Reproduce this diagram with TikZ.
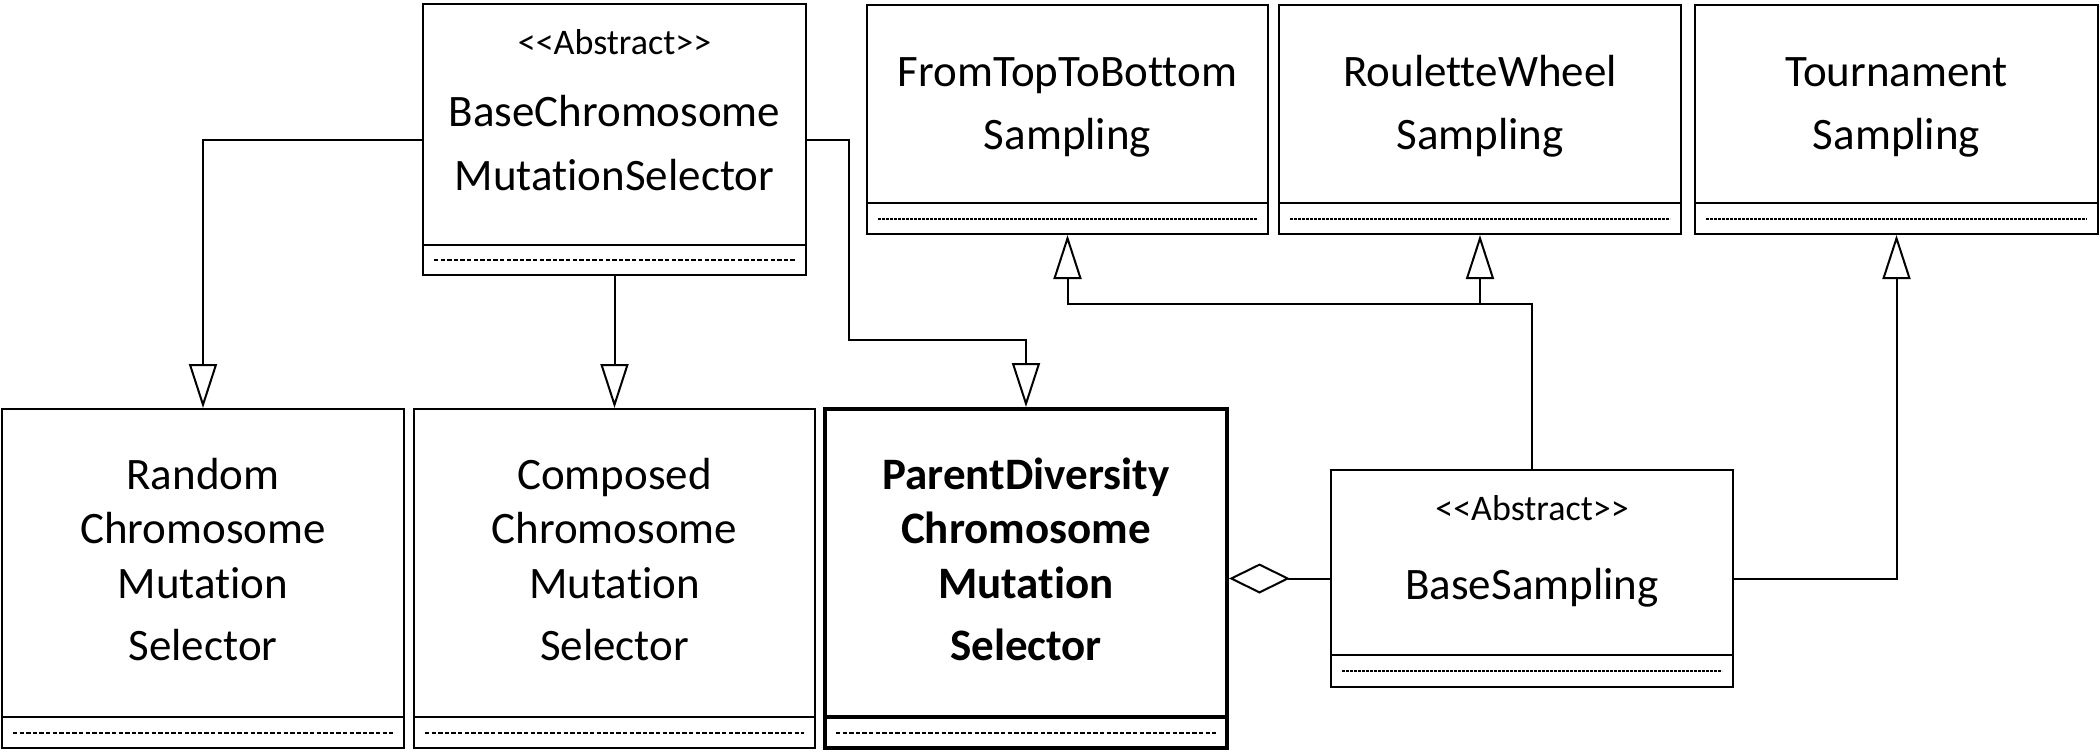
\documentclass[tikz,border=0pt]{standalone}
\usepackage{fontspec}
\setmainfont{Carlito}[Ligatures={NoCommon}]
\usetikzlibrary{arrows.meta,fit,calc}
\tikzset{
 boxst/.style={draw, line width=1pt, inner sep=0pt},
 thickbox/.style={draw, line width=2pt, inner sep=0pt},
 dashline/.style={line width=1pt, dash pattern=on 2.2pt off 1.1pt},
 dotline/.style={line width=1pt, dash pattern=on 1.3pt off 0.7pt},
 big/.style={font=\fontsize{22.5pt}{27pt}\selectfont, inner sep=0pt, anchor=base},
 bigb/.style={font=\fontsize{22.5pt}{27pt}\selectfont\bfseries, inner sep=0pt, anchor=base},
 small/.style={font=\fontsize{18pt}{21pt}\selectfont, inner sep=0pt, anchor=base},
 inh/.style={line width=1pt, -{Triangle[open, length=22pt, width=14pt]}},
 agg/.style={line width=1pt, -{Diamond[open, length=30.5pt, width=15pt]}},
}
% #1 name, #2 x1, #3 y1, #4 x2, #5 y2, #6 separator y, #7 box style, #8 dash style
\newcommand\mkbox[8]{%
 \coordinate (#1-a) at (#2,#3);
 \coordinate (#1-b) at (#4,#5);
 \node[#7, fit=(#1-a)(#1-b)] (#1) {};
 \draw[#7] (#2,#6) -- (#4,#6);
 \draw[#8] ({#2+11},{(#6+#5)/2}) -- ({#4-11},{(#6+#5)/2});
}
\begin{document}
\begin{tikzpicture}[x=0.5pt,y=-0.5pt]
\useasboundingbox (0,0) rectangle (2100,752);

\mkbox{bcms}{423}{4}{806}{275}{245}{boxst}{dashline}
\mkbox{rand}{2}{409}{404}{748}{717}{boxst}{dashline}
\mkbox{comp}{414}{409}{815}{748}{717}{boxst}{dashline}
\mkbox{pd}{825}{409}{1227}{748}{717}{thickbox}{dashline}
\mkbox{ftb}{867}{5}{1268}{234}{203}{boxst}{dotline}
\mkbox{rw}{1279}{5}{1681}{234}{203}{boxst}{dotline}
\mkbox{tour}{1695}{5}{2098}{234}{203}{boxst}{dotline}
\mkbox{bs}{1331}{470}{1733}{687}{655}{boxst}{dotline}

% texts
\node[small] (bcms-s) at (614.5,54) {<{}<Abstract>{}>};
\node[big] (bcms-t1) at (614.5,126) {BaseChromosome};
\node[big] (bcms-t2) at (614.5,190) {MutationSelector};

\foreach \t/\yy [count=\i] in {Random/489,Chromosome/543,Mutation/598,Selector/660}
  \node[big] (rand-t\i) at (203,\yy) {\t};
\foreach \t/\yy [count=\i] in {Composed/489,Chromosome/543,Mutation/598,Selector/660}
  \node[big] (comp-t\i) at (614.5,\yy) {\t};
\foreach \t/\yy [count=\i] in {ParentDiversity/489,Chromosome/543,Mutation/598,Selector/660}
  \node[bigb] (pd-t\i) at (1026,\yy) {\t};

\node[big] (ftb-t1) at (1067.5,86) {FromTopToBottom};
\node[big] (ftb-t2) at (1067.5,149) {Sampling};
\node[big] (rw-t1) at (1480,86) {RouletteWheel};
\node[big] (rw-t2) at (1480,149) {Sampling};
\node[big] (tour-t1) at (1896.5,86) {Tournament};
\node[big] (tour-t2) at (1896.5,149) {Sampling};

\node[small] (bs-s) at (1532,520) {<{}<Abstract>{}>};
\node[big] (bs-t) at (1532,599) {BaseSampling};

% connectors
\draw[inh] (bcms.west) -| (rand.north);
\draw[inh] (bcms.south) -- (comp.north);
\coordinate (k1) at (849,340);
\draw[inh] (bcms.east) -| (k1) -| (pd.north);
\draw[agg] (bs.west) -- (pd.east);
\coordinate (k2) at (1532,304);
\draw[inh] (bs.north) -- (k2) -| (ftb.south);
\draw[inh] (k2 -| rw.south) -- (rw.south);
\draw[inh] (bs.east) -| (tour.south);
\end{tikzpicture}
\end{document}
